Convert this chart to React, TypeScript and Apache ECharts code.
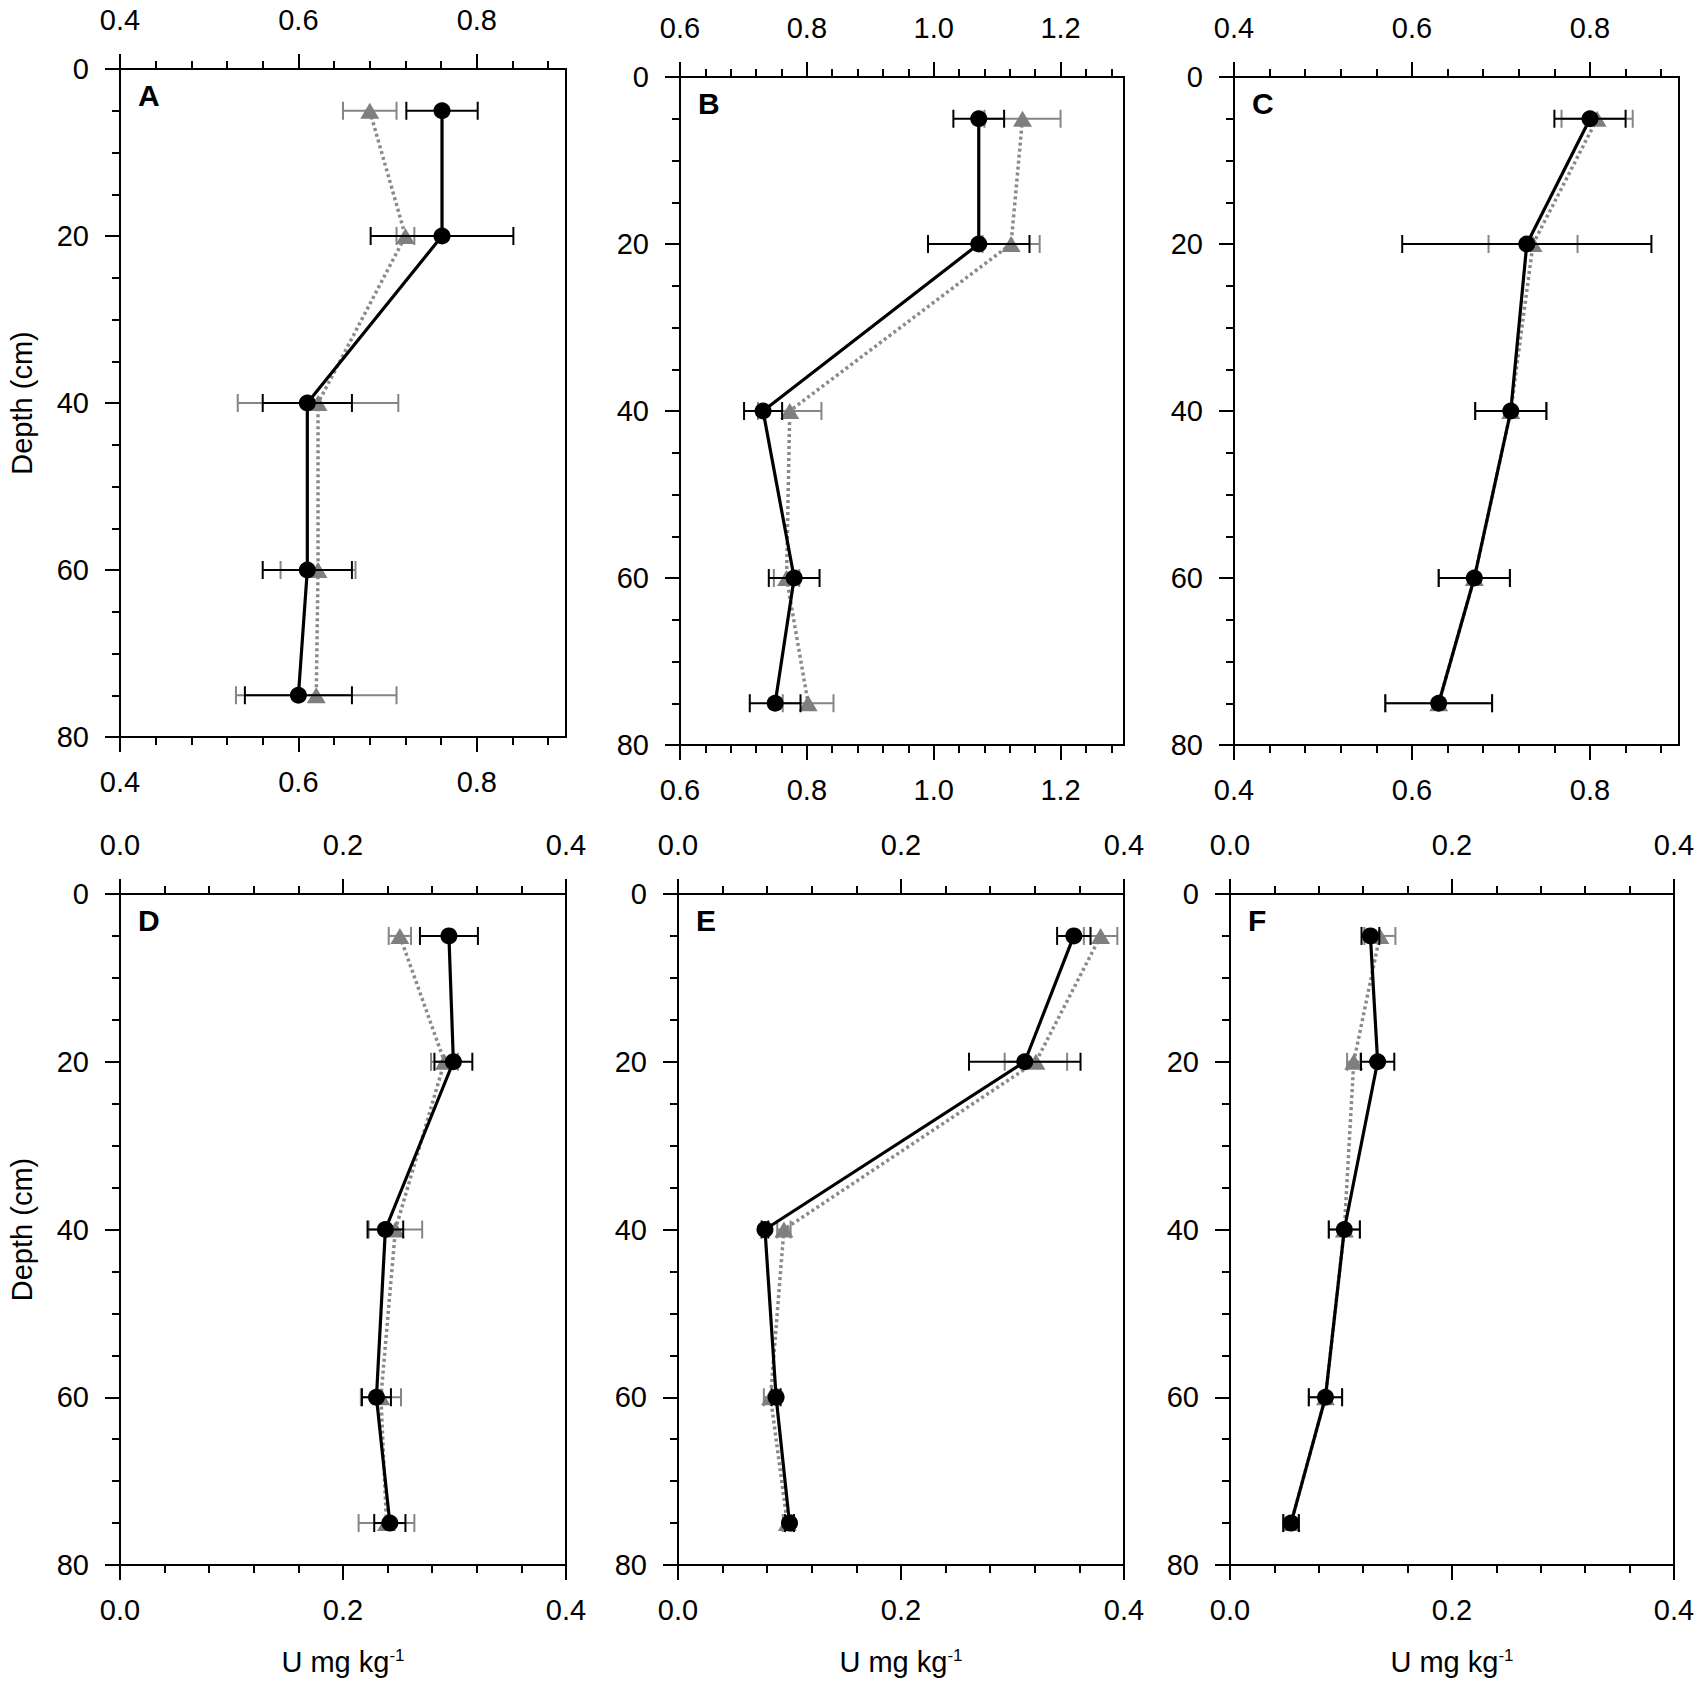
import React, { useEffect, useRef } from 'react';
import * as echarts from 'echarts';

const FONT = 'Liberation Sans, Arial, sans-serif';

// depth of each sample (cm)
const DEPTHS = [5, 20, 40, 60, 75];

// Panel A
const A_BLACK = [0.761, 0.761, 0.61, 0.61, 0.60];
const A_BLACK_ERR = [0.04, 0.08, 0.05, 0.05, 0.06];
const A_GRAY = [0.68, 0.72, 0.622, 0.622, 0.62];
const A_GRAY_ERR = [0.03, 0.01, 0.09, 0.042, 0.09];
// Panel B
const B_BLACK = [1.071, 1.071, 0.731, 0.78, 0.75];
const B_BLACK_ERR = [0.04, 0.08, 0.03, 0.04, 0.04];
const B_GRAY = [1.14, 1.122, 0.773, 0.768, 0.802];
const B_GRAY_ERR = [0.06, 0.045, 0.05, 0.02, 0.04];
// Panel C
const C_BLACK = [0.80, 0.729, 0.711, 0.67, 0.63];
const C_BLACK_ERR = [0.04, 0.14, 0.04, 0.04, 0.06];
const C_GRAY = [0.808, 0.736, 0.711, 0.67, 0.63];
const C_GRAY_ERR = [0.04, 0.05, 0.04, 0.04, 0.06];
// Panel D
const D_BLACK = [0.295, 0.299, 0.238, 0.23, 0.242];
const D_BLACK_ERR = [0.026, 0.017, 0.016, 0.013, 0.014];
const D_GRAY = [0.251, 0.291, 0.247, 0.234, 0.239];
const D_GRAY_ERR = [0.01, 0.012, 0.024, 0.018, 0.025];
// Panel E
const E_BLACK = [0.355, 0.311, 0.078, 0.088, 0.1];
const E_BLACK_ERR = [0.015, 0.05, 0.003, 0.004, 0.004];
const E_GRAY = [0.379, 0.321, 0.095, 0.083, 0.098];
const E_GRAY_ERR = [0.015, 0.028, 0.006, 0.006, 0.004];
// Panel F
const F_BLACK = [0.1265, 0.133, 0.103, 0.086, 0.055];
const F_BLACK_ERR = [0.008, 0.015, 0.014, 0.015, 0.007];
const F_GRAY = [0.135, 0.1115, 0.103, 0.086, 0.055];
const F_GRAY_ERR = [0.014, 0.006, 0.014, 0.015, 0.007];

const PANEL_LABELS = ['A', 'B', 'C', 'D', 'E', 'F'];
const X_RANGES = [[0.4, 0.9], [0.6, 1.3], [0.4, 0.9], [0, 0.4], [0, 0.4], [0, 0.4]];
const X_MAJOR_TICKS = [
  [0.4, 0.6, 0.8],
  [0.6, 0.8, 1.0, 1.2],
  [0.4, 0.6, 0.8],
  [0, 0.2, 0.4],
  [0, 0.2, 0.4],
  [0, 0.2, 0.4],
];
const X_TITLE = 'U mg kg';
const X_TITLE_SUP = '-1';
const Y_TITLE = 'Depth (cm)';

const PANEL_DATA = [
  { black: A_BLACK, blackErr: A_BLACK_ERR, gray: A_GRAY, grayErr: A_GRAY_ERR },
  { black: B_BLACK, blackErr: B_BLACK_ERR, gray: B_GRAY, grayErr: B_GRAY_ERR },
  { black: C_BLACK, blackErr: C_BLACK_ERR, gray: C_GRAY, grayErr: C_GRAY_ERR },
  { black: D_BLACK, blackErr: D_BLACK_ERR, gray: D_GRAY, grayErr: D_GRAY_ERR },
  { black: E_BLACK, blackErr: E_BLACK_ERR, gray: E_GRAY, grayErr: E_GRAY_ERR },
  { black: F_BLACK, blackErr: F_BLACK_ERR, gray: F_GRAY, grayErr: F_GRAY_ERR },
];

const GRIDS = [
  { left: 120, top: 69, width: 446, height: 668 },
  { left: 680, top: 77, width: 444, height: 668 },
  { left: 1234, top: 77, width: 445, height: 668 },
  { left: 120, top: 894, width: 446, height: 671 },
  { left: 678, top: 894, width: 446, height: 671 },
  { left: 1230, top: 894, width: 444, height: 671 },
];

function buildOption() {
  const grid: any[] = [];
  const xAxis: any[] = [];
  const yAxis: any[] = [];
  const series: any[] = [];
  const graphic: any[] = [];

  GRIDS.forEach((g, i) => {
    grid.push({
      ...g,
      show: true,
      borderColor: '#000',
      borderWidth: 2,
      backgroundColor: 'transparent',
      containLabel: false,
      outerBoundsMode: 'none',
    });
    const [mn, mx] = X_RANGES[i];
    const major = X_MAJOR_TICKS[i];
    const mkX = (pos: string) => {
      const ax: any = {
        type: 'value',
        gridIndex: i,
        position: pos,
        min: mn,
        max: mx,
        interval: 0.2,
        axisLine: { show: true, onZero: false, lineStyle: { color: '#000', width: 2 } },
        axisTick: { show: true, inside: false, length: 15, customValues: major, lineStyle: { color: '#000', width: 2 } },
        minorTick: { show: true, splitNumber: 5, length: 8, lineStyle: { color: '#000', width: 2 } },
        axisLabel: {
          show: true,
          margin: pos === 'top' ? 35 : 30,
          customValues: major,
          color: '#000',
          fontSize: 29,
          fontFamily: FONT,
          formatter: (v: number) => (major.some((m) => Math.abs(m - v) < 1e-9) ? v.toFixed(1) : ''),
        },
        splitLine: { show: false },
      };
      if (pos === 'bottom' && i >= 3) {
        ax.name = `{a|${X_TITLE}}{b|${X_TITLE_SUP}}`;
        ax.nameLocation = 'middle';
        ax.nameGap = 82;
        ax.nameTextStyle = {
          rich: {
            a: { fontSize: 29, fontFamily: FONT, color: '#000' },
            b: { fontSize: 17, fontFamily: FONT, color: '#000', verticalAlign: 'top' },
          },
        };
      }
      return ax;
    };
    xAxis.push(mkX('bottom'), mkX('top'));
    const y: any = {
      type: 'value',
      gridIndex: i,
      position: 'left',
      inverse: true,
      min: 0,
      max: 80,
      interval: 20,
      axisLine: { show: true, onZero: false, lineStyle: { color: '#000', width: 2 } },
      axisTick: { show: true, inside: false, length: 15, lineStyle: { color: '#000', width: 2 } },
      minorTick: { show: true, splitNumber: 4, length: 8, lineStyle: { color: '#000', width: 2 } },
      axisLabel: { show: true, margin: 31, color: '#000', fontSize: 29, fontFamily: FONT },
      splitLine: { show: false },
    };
    if (i % 3 === 0) {
      y.name = Y_TITLE;
      y.nameLocation = 'middle';
      y.nameGap = 84;
      y.nameTextStyle = { fontSize: 29, fontFamily: FONT, color: '#000' };
    }
    yAxis.push(y);

    const d = PANEL_DATA[i];
    const errSeries = (vals: number[], errs: number[], color: string, z: number) => ({
      type: 'custom',
      xAxisIndex: 2 * i,
      yAxisIndex: i,
      z,
      silent: true,
      clip: false,
      data: DEPTHS.map((dep, k) => [vals[k], dep, errs[k]]),
      encode: { x: 0, y: 1 },
      renderItem: (_p: any, api: any) => {
        const x = api.value(0);
        const yv = api.value(1);
        const e = api.value(2);
        const p1 = api.coord([x - e, yv]);
        const p2 = api.coord([x + e, yv]);
        const cap = 9;
        const st = { stroke: color, lineWidth: 2 };
        return {
          type: 'group',
          children: [
            { type: 'line', shape: { x1: p1[0], y1: p1[1], x2: p2[0], y2: p2[1] }, style: st },
            { type: 'line', shape: { x1: p1[0], y1: p1[1] - cap, x2: p1[0], y2: p1[1] + cap }, style: st },
            { type: 'line', shape: { x1: p2[0], y1: p2[1] - cap, x2: p2[0], y2: p2[1] + cap }, style: st },
          ],
        };
      },
    });
    series.push(errSeries(d.gray, d.grayErr, '#858585', 2));
    series.push({
      type: 'line',
      xAxisIndex: 2 * i,
      yAxisIndex: i,
      z: 3,
      silent: true,
      clip: false,
      data: DEPTHS.map((dep, k) => [d.gray[k], dep]),
      symbol: 'triangle',
      symbolSize: [19, 16],
      showSymbol: true,
      itemStyle: { color: '#7f7f7f' },
      lineStyle: { color: '#8a8a8a', width: 3.5, type: [3, 3] },
    });
    series.push(errSeries(d.black, d.blackErr, '#000', 4));
    series.push({
      type: 'line',
      xAxisIndex: 2 * i,
      yAxisIndex: i,
      z: 5,
      silent: true,
      clip: false,
      data: DEPTHS.map((dep, k) => [d.black[k], dep]),
      symbol: 'circle',
      symbolSize: 17,
      showSymbol: true,
      itemStyle: { color: '#000' },
      lineStyle: { color: '#000', width: 3.2 },
    });

    graphic.push({
      type: 'text',
      left: g.left + 18,
      top: g.top + 11,
      z: 100,
      style: { text: PANEL_LABELS[i], fontSize: 30, fontWeight: 'bold', fontFamily: FONT, fill: '#000' },
    });
  });

  return {
    animation: false,
    backgroundColor: '#fff',
    grid,
    xAxis,
    yAxis,
    series,
    graphic,
  };
}

export default function App() {
  const ref = useRef<HTMLDivElement>(null);
  useEffect(() => {
    document.body.style.margin = '0';
    if (!ref.current) return;
    const chart = echarts.init(ref.current, undefined, { renderer: 'svg' });
    chart.setOption(buildOption() as any);
    return () => chart.dispose();
  }, []);
  return <div ref={ref} style={{ width: 1700, height: 1700 }} />;
}
